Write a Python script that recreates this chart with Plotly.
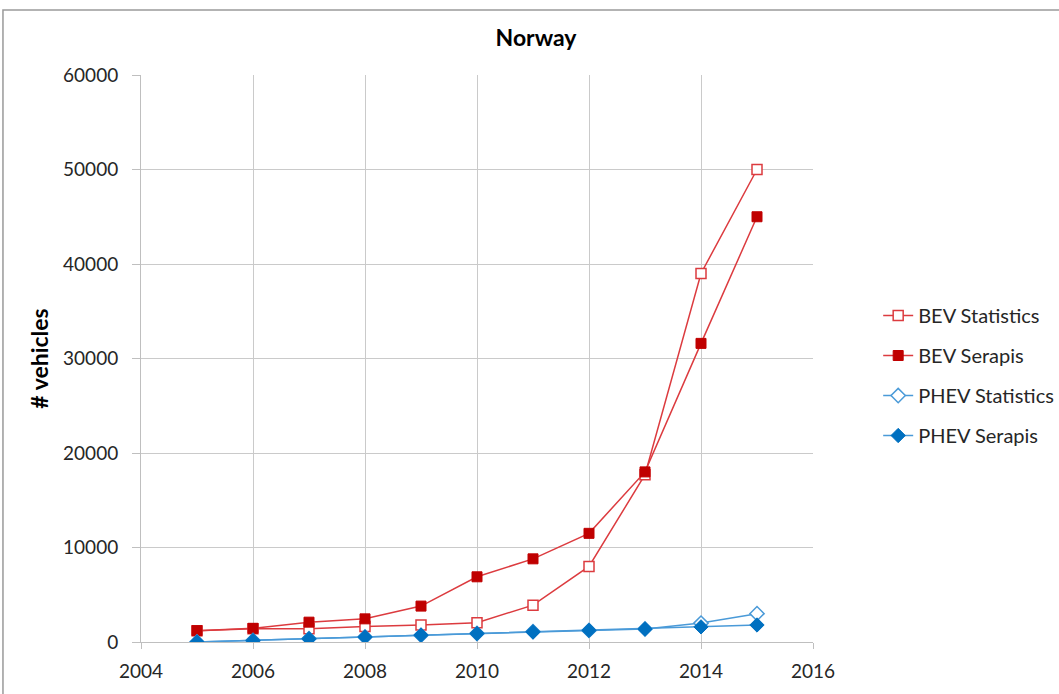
"""
Norway: number of BEV / PHEV vehicles, statistics vs Serapis model.
"""

import plotly.graph_objects as go

YEARS = [2005, 2006, 2007, 2008, 2009, 2010, 2011, 2012, 2013, 2014, 2015]

BEV_STATISTICS = [1200, 1400, 1400, 1650, 1800, 2050, 3900, 8000, 17700, 39000, 50000]
BEV_SERAPIS = [1200, 1450, 2100, 2450, 3800, 6900, 8800, 11500, 18000, 31600, 45000]
PHEV_STATISTICS = [0, 150, 350, 530, 720, 900, 1080, 1230, 1380, 2000, 3000]
PHEV_SERAPIS = [0, 150, 350, 530, 720, 900, 1080, 1230, 1380, 1600, 1800]

X_TICKS = [2004, 2006, 2008, 2010, 2012, 2014, 2016]
Y_TICKS = [0, 10000, 20000, 30000, 40000, 50000, 60000]
Y_TICK_LABELS = [str(v) for v in Y_TICKS]

FONT = "Lato, 'Open Sans', sans-serif"
RED_LINE = "#DC3B3F"
RED = "#C00000"
BLUE_LIGHT = "#4A9AD8"
BLUE = "#0070C0"
GRID = "#CACACA"


def build_fig():
    fig = go.Figure()
    fig.add_trace(go.Scatter(
        x=YEARS, y=BEV_STATISTICS, mode="lines+markers", name="BEV Statistics",
        legendgroup="a",
        line=dict(color=RED_LINE, width=1.5),
        marker=dict(symbol="square", size=10, color="white",
                    line=dict(color=RED_LINE, width=1.5)),
    ))
    fig.add_trace(go.Scatter(
        x=YEARS, y=BEV_SERAPIS, mode="lines+markers", name="BEV Serapis",
        legendgroup="b",
        line=dict(color=RED_LINE, width=1.5),
        marker=dict(symbol="square", size=10, color=RED,
                    line=dict(color=RED, width=1)),
    ))
    fig.add_trace(go.Scatter(
        x=YEARS, y=PHEV_STATISTICS, mode="lines+markers", name="PHEV Statistics",
        legendgroup="c",
        line=dict(color=BLUE_LIGHT, width=1.5),
        marker=dict(symbol="diamond", size=11, color="white",
                    line=dict(color=BLUE_LIGHT, width=1.5)),
    ))
    fig.add_trace(go.Scatter(
        x=YEARS, y=PHEV_SERAPIS, mode="lines+markers", name="PHEV Serapis",
        legendgroup="d",
        line=dict(color=BLUE_LIGHT, width=1.5),
        marker=dict(symbol="diamond", size=11, color=BLUE,
                    line=dict(color=BLUE, width=1)),
    ))

    fig.update_layout(
        width=1059,
        height=694,
        paper_bgcolor="white",
        plot_bgcolor="white",
        font=dict(family=FONT, size=19, color="#262626"),
        title=dict(text="<b>Norway</b>", x=536 / 1059, xanchor="center",
                   y=1 - 38 / 694, yanchor="middle",
                   font=dict(family=FONT, size=23, color="black")),
        margin=dict(l=141, r=246, t=75, b=52, autoexpand=False),
        showlegend=True,
        legend=dict(x=1.097, y=0.47, xanchor="left", yanchor="middle",
                    font=dict(family=FONT, size=20, color="#262626"),
                    tracegroupgap=11, itemwidth=30, bgcolor="rgba(0,0,0,0)"),
        xaxis=dict(
            range=[2004, 2016], tickvals=X_TICKS, showgrid=True,
            gridcolor=GRID, gridwidth=1, zeroline=False,
            showline=True, linecolor="#BFBFBF", ticks="outside",
            ticklen=6, tickcolor="#BFBFBF", ticklabelstandoff=6,
        ),
        yaxis=dict(
            range=[0, 60000], tickvals=Y_TICKS, ticktext=Y_TICK_LABELS,
            showgrid=True, gridcolor=GRID, gridwidth=1, zeroline=False,
            showline=True, linecolor="#BFBFBF", ticks="outside", ticklen=8,
            tickcolor="#BFBFBF", ticklabelstandoff=10,
            title=dict(text="<b># vehicles</b>", standoff=8,
                       font=dict(family=FONT, size=23, color="black")),
        ),
        shapes=[dict(type="rect", xref="paper", yref="paper",
                     x0=-0.2054, x1=1.5, y0=-0.3, y1=1.1146,
                     line=dict(color="#9A9A9A", width=1.5))],
    )
    return fig


def main():
    fig = build_fig()
    # page body has a default 8px margin; drop it so the figure fills the window
    fig.write_html("out.html", config={"displayModeBar": False},
                   post_script="document.body.style.margin='0';")


if __name__ == "__main__":
    main()
